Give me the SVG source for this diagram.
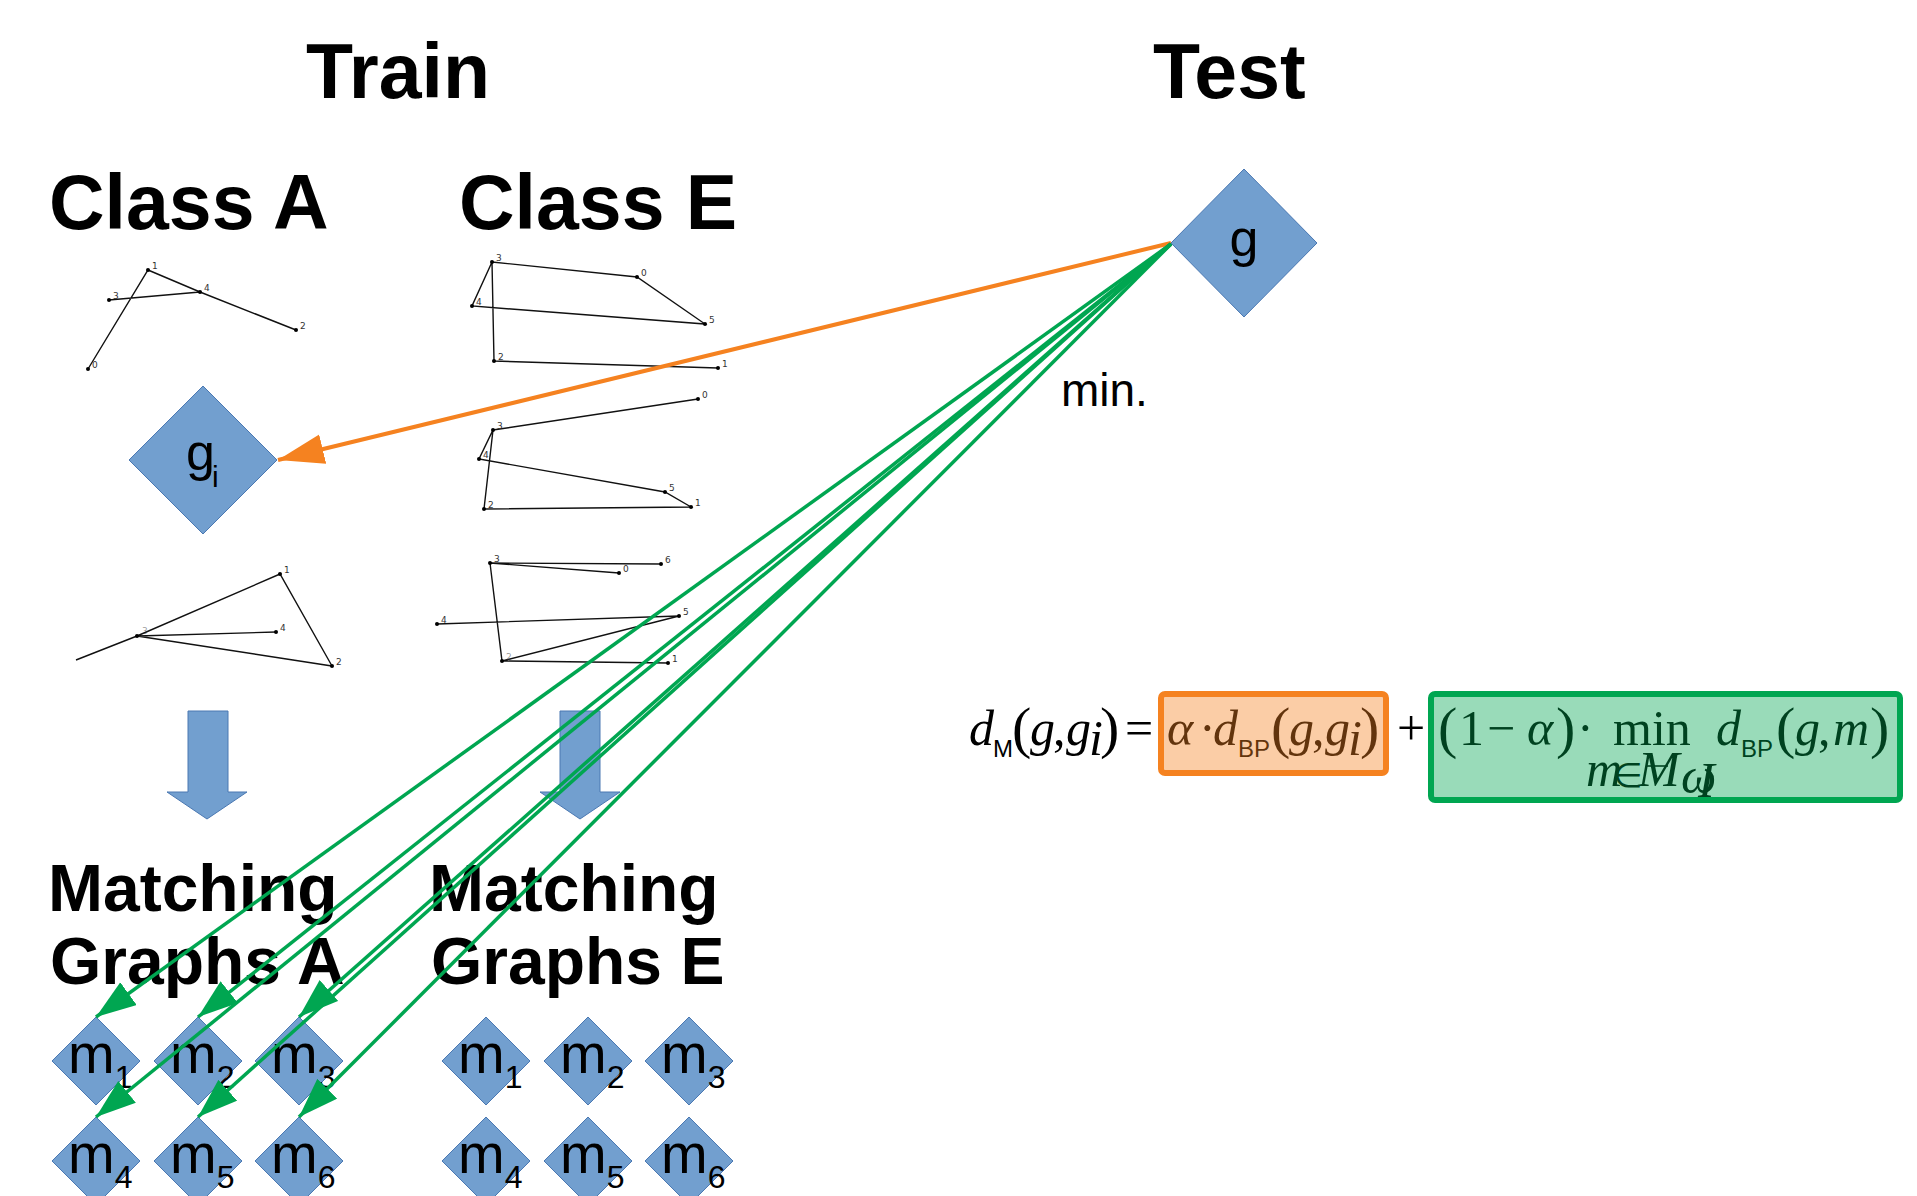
<svg xmlns="http://www.w3.org/2000/svg" width="1917" height="1196" viewBox="0 0 1917 1196">
  <style>
    .title { font-family: "Liberation Sans", Arial, sans-serif; font-weight: bold; font-size: 77px; fill: #000; }
    .sub { font-family: "Liberation Sans", Arial, sans-serif; font-weight: bold; font-size: 66px; fill: #000; }
    .node { fill: #729FCF; stroke: #4A78B2; stroke-width: 1; }
    .lbl { font-family: "Liberation Sans", Arial, sans-serif; fill: #000; }
    .edge { stroke: #111; stroke-width: 1.4; fill: none; }
    .dot { fill: #000; }
    .nl { font-family: "DejaVu Sans", sans-serif; font-size: 9px; fill: #333; }
    .math { font-family: "Liberation Serif", "Times New Roman", serif; font-size: 50px; fill: #000; }
    .par { font-size: 58px; }
    .mi { font-style: italic; }
    .msans { font-family: "Liberation Sans", Arial, sans-serif; font-size: 24px; fill: #000; }
    .green { stroke: #00A651; stroke-width: 3.5; fill: none; }
    .orange { stroke: #F58220; stroke-width: 4; fill: none; }
  </style>
  <defs>
    <marker id="headG" markerUnits="userSpaceOnUse" markerWidth="44" markerHeight="30" refX="40" refY="14" orient="auto">
      <path d="M0,0 L40,14 L0,28 Z" fill="#00A651"/>
    </marker>
    <marker id="headO" markerUnits="userSpaceOnUse" markerWidth="50" markerHeight="32" refX="46" refY="15" orient="auto">
      <path d="M0,0 L46,15 L0,30 Z" fill="#F58220"/>
    </marker>
  </defs>

  <rect width="1917" height="1196" fill="#fff"/>

  <!-- headings -->
  <text class="title" x="306" y="98">Train</text>
  <text class="title" x="1153" y="98">Test</text>
  <text class="title" x="49" y="229">Class A</text>
  <text class="title" x="459" y="229">Class E</text>
  <text class="sub" x="48" y="911">Matching</text>
  <text class="sub" x="50" y="984">Graphs A</text>
  <text class="sub" x="429" y="911">Matching</text>
  <text class="sub" x="431" y="984">Graphs E</text>

  <!-- training graph drawings, class A -->
  <g id="graphA1">
    <path class="edge" d="M88,369 L148,270 L200,292 L296,330 M109,300 L200,292"/>
    <circle class="dot" cx="88" cy="369" r="2"/><circle class="dot" cx="148" cy="270" r="2"/>
    <circle class="dot" cx="296" cy="330" r="2"/><circle class="dot" cx="109" cy="300" r="2"/>
    <circle class="dot" cx="200" cy="292" r="2"/>
    <text class="nl" x="92" y="368">0</text><text class="nl" x="152" y="269">1</text>
    <text class="nl" x="300" y="329">2</text><text class="nl" x="113" y="299">3</text>
    <text class="nl" x="204" y="291">4</text>
  </g>
  <g id="graphA2">
    <path class="edge" d="M76,660 L137,636 L280,574 L332,666 L137,636 L276,632"/>
    <circle class="dot" cx="137" cy="636" r="2"/><circle class="dot" cx="280" cy="574" r="2"/>
    <circle class="dot" cx="332" cy="666" r="2"/><circle class="dot" cx="276" cy="632" r="2"/>
    <text class="nl" x="284" y="573">1</text><text class="nl" x="336" y="665">2</text>
    <text class="nl" x="142" y="634" fill-opacity="0.5">3</text><text class="nl" x="280" y="631">4</text>
  </g>

  <!-- training graph drawings, class E -->
  <g id="graphE1">
    <path class="edge" d="M492,262 L637,277 L705,324 L472,306 L492,262 L494,361 L718,368"/>
    <circle class="dot" cx="492" cy="262" r="2"/><circle class="dot" cx="637" cy="277" r="2"/>
    <circle class="dot" cx="705" cy="324" r="2"/><circle class="dot" cx="472" cy="306" r="2"/>
    <circle class="dot" cx="494" cy="361" r="2"/><circle class="dot" cx="718" cy="368" r="2"/>
    <text class="nl" x="496" y="261">3</text><text class="nl" x="641" y="276">0</text>
    <text class="nl" x="709" y="323">5</text><text class="nl" x="476" y="305">4</text>
    <text class="nl" x="498" y="360">2</text><text class="nl" x="722" y="367">1</text>
  </g>
  <g id="graphE2">
    <path class="edge" d="M698,399 L493,430 L479,459 L665,492 L691,507 L484,509 L493,430"/>
    <circle class="dot" cx="698" cy="399" r="2"/><circle class="dot" cx="493" cy="430" r="2"/>
    <circle class="dot" cx="479" cy="459" r="2"/><circle class="dot" cx="665" cy="492" r="2"/>
    <circle class="dot" cx="691" cy="507" r="2"/><circle class="dot" cx="484" cy="509" r="2"/>
    <text class="nl" x="702" y="398">0</text><text class="nl" x="497" y="429">3</text>
    <text class="nl" x="483" y="458">4</text><text class="nl" x="669" y="491">5</text>
    <text class="nl" x="695" y="506">1</text><text class="nl" x="488" y="508">2</text>
  </g>
  <g id="graphE3">
    <path class="edge" d="M661,564 L490,563 L619,573 M490,563 L502,661 L668,663 M437,624 L679,616 L502,661"/>
    <circle class="dot" cx="490" cy="563" r="2"/><circle class="dot" cx="661" cy="564" r="2"/>
    <circle class="dot" cx="619" cy="573" r="2"/><circle class="dot" cx="437" cy="624" r="2"/>
    <circle class="dot" cx="679" cy="616" r="2"/><circle class="dot" cx="502" cy="661" r="2"/>
    <circle class="dot" cx="668" cy="663" r="2"/>
    <text class="nl" x="494" y="562">3</text><text class="nl" x="665" y="563">6</text>
    <text class="nl" x="623" y="572">0</text><text class="nl" x="441" y="623">4</text>
    <text class="nl" x="683" y="615">5</text><text class="nl" x="506" y="660" fill-opacity="0.5">2</text>
    <text class="nl" x="672" y="662">1</text>
  </g>

  <!-- block arrows from classes to matching graphs -->
  <g id="arrowA"><path class="node" d="M188,711 L228,711 L228,792 L247,792 L207,819 L167,792 L188,792 Z"/></g>
  <g id="arrowE"><path class="node" d="M560,711 L600,711 L600,792 L620,792 L580,819 L540,792 L560,792 Z"/></g>

  <!-- test graph -->
  <g id="g">
    <path class="node" d="M1244,169 L1317,243 L1244,317 L1171,243 Z"/>
    <text class="lbl" x="1244" y="256" font-size="52" text-anchor="middle">g</text>
  </g>
  <!-- training graph g_i -->
  <g id="gi">
    <path class="node" d="M203,386 L277,460 L203,534 L129,460 Z"/>
    <text class="lbl" x="186" y="470" font-size="52">g</text>
    <text class="lbl" x="212" y="487" font-size="30">i</text>
  </g>

  <!-- matching graphs A -->
  <g id="mA1"><path class="node" d="M96,1017 L140,1061 L96,1105 L52,1061 Z"/><text class="lbl" x="68" y="1073" font-size="56">m<tspan font-size="32" dy="15">1</tspan></text></g>
  <g id="mA2"><path class="node" d="M198,1017 L242,1061 L198,1105 L154,1061 Z"/><text class="lbl" x="170" y="1073" font-size="56">m<tspan font-size="32" dy="15">2</tspan></text></g>
  <g id="mA3"><path class="node" d="M299,1017 L343,1061 L299,1105 L255,1061 Z"/><text class="lbl" x="271" y="1073" font-size="56">m<tspan font-size="32" dy="15">3</tspan></text></g>
  <g id="mA4"><path class="node" d="M96,1117 L140,1161 L96,1205 L52,1161 Z"/><text class="lbl" x="68" y="1173" font-size="56">m<tspan font-size="32" dy="15">4</tspan></text></g>
  <g id="mA5"><path class="node" d="M198,1117 L242,1161 L198,1205 L154,1161 Z"/><text class="lbl" x="170" y="1173" font-size="56">m<tspan font-size="32" dy="15">5</tspan></text></g>
  <g id="mA6"><path class="node" d="M299,1117 L343,1161 L299,1205 L255,1161 Z"/><text class="lbl" x="271" y="1173" font-size="56">m<tspan font-size="32" dy="15">6</tspan></text></g>

  <!-- matching graphs E -->
  <g id="mE1"><path class="node" d="M486,1017 L530,1061 L486,1105 L442,1061 Z"/><text class="lbl" x="458" y="1073" font-size="56">m<tspan font-size="32" dy="15">1</tspan></text></g>
  <g id="mE2"><path class="node" d="M588,1017 L632,1061 L588,1105 L544,1061 Z"/><text class="lbl" x="560" y="1073" font-size="56">m<tspan font-size="32" dy="15">2</tspan></text></g>
  <g id="mE3"><path class="node" d="M689,1017 L733,1061 L689,1105 L645,1061 Z"/><text class="lbl" x="661" y="1073" font-size="56">m<tspan font-size="32" dy="15">3</tspan></text></g>
  <g id="mE4"><path class="node" d="M486,1117 L530,1161 L486,1205 L442,1161 Z"/><text class="lbl" x="458" y="1173" font-size="56">m<tspan font-size="32" dy="15">4</tspan></text></g>
  <g id="mE5"><path class="node" d="M588,1117 L632,1161 L588,1205 L544,1161 Z"/><text class="lbl" x="560" y="1173" font-size="56">m<tspan font-size="32" dy="15">5</tspan></text></g>
  <g id="mE6"><path class="node" d="M689,1117 L733,1161 L689,1205 L645,1161 Z"/><text class="lbl" x="661" y="1173" font-size="56">m<tspan font-size="32" dy="15">6</tspan></text></g>

  <text class="lbl" x="1061" y="406" font-size="46">min.</text>

  <!-- connectors -->
  <g id="connectors">
    <line class="orange" x1="1171" y1="243" x2="278" y2="460" marker-end="url(#headO)"/>
    <line class="green" x1="1171" y1="244" x2="96" y2="1017" marker-end="url(#headG)"/>
    <line class="green" x1="1171" y1="244" x2="198" y2="1017" marker-end="url(#headG)"/>
    <line class="green" x1="1171" y1="244" x2="299" y2="1017" marker-end="url(#headG)"/>
    <line class="green" x1="1171" y1="244" x2="96" y2="1117" marker-end="url(#headG)"/>
    <line class="green" x1="1171" y1="244" x2="198" y2="1117" marker-end="url(#headG)"/>
    <line class="green" x1="1171" y1="244" x2="299" y2="1117" marker-end="url(#headG)"/>
  </g>

  <!-- distance formula: d_M(g,g_i) = a*d_BP(g,g_i) + (1-a)*min d_BP(g,m) -->
  <g id="formula">
    <text class="math mi" x="969" y="745">d</text>
    <text class="msans" x="993" y="757">M</text>
    <text class="math par" x="1012" y="747">(</text>
    <text class="math mi" x="1030" y="745">g</text>
    <text class="math" x="1053" y="745">,</text>
    <text class="math mi" x="1066" y="745">g</text>
    <text class="math mi" x="1089" y="755" font-size="26">i</text>
    <text class="math par" x="1100" y="747">)</text>
    <text class="math" x="1125" y="745">=</text>

    <text class="math mi" x="1167" y="745">α</text>
    <text class="math" x="1199" y="745">·</text>
    <text class="math mi" x="1213" y="745">d</text>
    <text class="msans" x="1238" y="757">BP</text>
    <text class="math par" x="1271" y="747">(</text>
    <text class="math mi" x="1289" y="745">g</text>
    <text class="math" x="1312" y="745">,</text>
    <text class="math mi" x="1325" y="745">g</text>
    <text class="math mi" x="1348" y="755" font-size="26">i</text>
    <text class="math par" x="1360" y="747">)</text>
    <text class="math" x="1397" y="745">+</text>

    <text class="math par" x="1438" y="747">(</text>
    <text class="math" x="1459" y="745">1</text>
    <text class="math" x="1487" y="745">−</text>
    <text class="math mi" x="1527" y="745">α</text>
    <text class="math par" x="1556" y="747">)</text>
    <text class="math" x="1577" y="745">·</text>
    <text class="math" x="1613" y="745" font-size="46">min</text>
    <text class="math mi" x="1716" y="745">d</text>
    <text class="msans" x="1741" y="757">BP</text>
    <text class="math par" x="1776" y="747">(</text>
    <text class="math mi" x="1795" y="745">g</text>
    <text class="math" x="1818" y="745">,</text>
    <text class="math mi" x="1833" y="745">m</text>
    <text class="math par" x="1870" y="747">)</text>

    <!-- subscript under min: m in M-bar with omega_I index -->
    <text class="math mi" x="1586" y="786" font-size="26">m</text>
    <text x="1613" y="787" font-family="DejaVu Sans, sans-serif" font-size="34" fill="#000">∈</text>
    <text class="math mi" x="1638" y="786" font-size="24">M</text>
    <line x1="1646" y1="766" x2="1668" y2="766" stroke="#000" stroke-width="1.6"/>
    <text class="math mi" x="1681" y="793" font-size="18">ω</text>
    <text class="math mi" x="1698" y="797" font-size="13">I</text>

    <rect x="1161" y="694" width="225" height="79" rx="4" fill="#F58220" fill-opacity="0.4" stroke="#F58220" stroke-width="6"/>
    <rect x="1431" y="694" width="469" height="106" rx="4" fill="#00A651" fill-opacity="0.4" stroke="#00A651" stroke-width="6"/>
  </g>
</svg>
